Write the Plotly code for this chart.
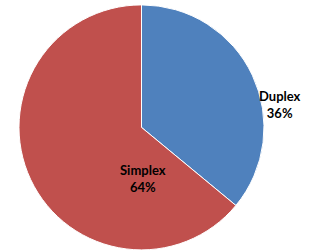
import plotly.graph_objects as go

labels = ["Duplex", "Simplex"]
values = [36, 64]
colors = ["#4F81BD", "#C0504D"]
label_pos = [(0.882, 0.582), (0.449, 0.288)]

fig = go.Figure(go.Pie(
    labels=labels, values=values, sort=False, direction="clockwise", rotation=0,
    marker=dict(colors=colors, line=dict(color="white", width=1)),
    textinfo="none", hoverinfo="label+percent", showlegend=False,
    domain=dict(x=[19/318, 264/318], y=[0.0, 0.985]),
))
total = sum(values)
for lab, v, (x, y) in zip(labels, values, label_pos):
    fig.add_annotation(x=x, y=y, xref="paper", yref="paper", showarrow=False,
                       xanchor="center", yanchor="middle",
                       text=f"<b>{lab}<br>{round(100*v/total)}%</b>",
                       font=dict(family="Lato", size=13, color="black"), align="center")
fig.update_layout(width=318, height=251, margin=dict(l=0, r=0, t=0, b=0),
                  paper_bgcolor="white", plot_bgcolor="white")
fig.write_html("out.html", config={"displayModeBar": False},
               post_script="document.body.style.margin='0';")
